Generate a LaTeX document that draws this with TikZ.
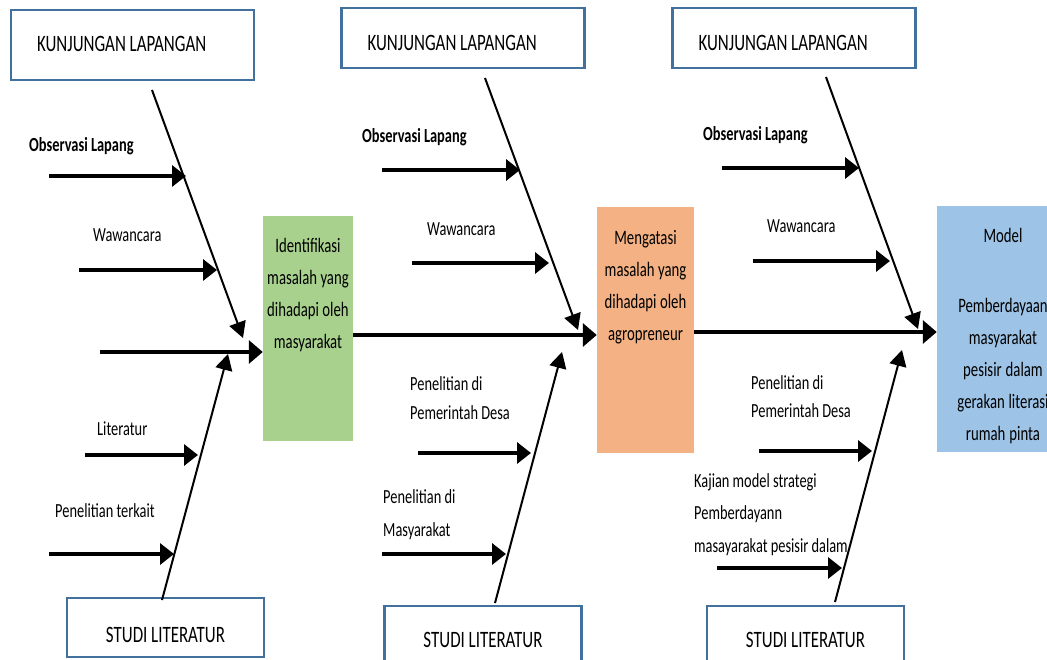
\documentclass[tikz,border=0pt]{standalone}
\usepackage{fontspec}
\setmainfont{Carlito}[FakeStretch=0.72]
\usetikzlibrary{positioning,arrows.meta,calc}
\definecolor{fishline}{HTML}{41719C}
\definecolor{fishgreen}{HTML}{A9D18E}
\definecolor{fishorange}{HTML}{F4B183}
\definecolor{fishblue}{HTML}{9DC3E6}
\newcommand{\fishsize}[2]{\fontsize{#1}{#2}\selectfont}
\tikzset{
    every node/.style={execute at begin node={\spaceskip=0.16em plus 0.05em\relax}},
    every edge/.style={draw,line width=2pt,-{Triangle[length=16pt,width=17pt]}},
    rib/.style={line width=3.3pt,-{Triangle[length=14pt,width=21pt]}},
    spine/.style={line width=3.3pt,-{Triangle[length=14pt,width=23pt]}},
    source/.style={draw=fishline,line width=2.5pt,inner xsep=26pt,inner ysep=0pt,text width=191pt,align=left,minimum height=60pt,text height=30pt,text depth=4pt,font=\fishsize{23.5}{28}},
    studi/.style={draw=fishline,line width=2.5pt,inner sep=0pt,minimum width=197pt,minimum height=60pt,text height=26pt,text depth=4pt,font=\fishsize{23.5}{28}},
    effect/.style={inner sep=0pt,align=center,font=\fishsize{20.5}{32}},
    cause/.style={inner sep=0pt,anchor=base west,align=left,text width=230pt,font=\fishsize{20}{30}},
}

\begin{document}
\begin{tikzpicture}[x=1pt,y=-1pt]
    \useasboundingbox (0,0) rectangle (1047,660);
    \clip (0,0) rectangle (1047,660);

    \node[source,text height=18pt,minimum height=70pt] (kl1) at (132.5,45) {KUNJUNGAN LAPANGAN};
    \node[source] (kl2) at (463,38) {KUNJUNGAN LAPANGAN};
    \node[source] (kl3) at (794,38) {KUNJUNGAN LAPANGAN};
    \node[studi,text height=33pt,minimum height=59pt] (sl1) at (165.5,627.5) {STUDI LITERATUR};
    \node[studi] (sl2) at (483,636) {STUDI LITERATUR};
    \node[studi] (sl3) at (805.5,636) {STUDI LITERATUR};

    \node[effect,fill=fishgreen,minimum width=90pt,text width=88pt,text height=37pt,text depth=188pt] (ident) at (308,328.5)
        {Identifikasi\\masalah yang\\dihadapi oleh\\masyarakat};
    \node[effect,fill=fishorange,minimum width=97pt,text width=95pt,text height=38pt,text depth=208pt] (atasi) at (645.5,330)
        {Mengatasi\\masalah yang\\dihadapi oleh\\agropreneur};
    \node[effect,fill=fishblue,minimum width=132pt,text width=130pt,text height=37pt,text depth=209pt] (model) at (1003,329)
        {Model\\[38pt]Pemberdayaan\\masyarakat\\pesisir dalam\\gerakan literasi\\rumah pinta};

    \node[cause] (obs1) at (29,152) {\textbf{Observasi Lapang}};
    \node[cause] (waw1) at (93,242) {Wawancara};
    \node[cause] (lit1) at (97,435) {Literatur};
    \node[cause] (pen1) at (55,517) {Penelitian terkait};
    \node[cause] (obs2) at (362,143) {\textbf{Observasi Lapang}};
    \node[cause] (waw2) at (427,236) {Wawancara};
    \node[cause,font=\fishsize{20}{29}] (pem2) at (410,390) {Penelitian di\\Pemerintah Desa};
    \node[cause,font=\fishsize{20}{33}] (mas2) at (383,503) {Penelitian di\\Masyarakat};
    \node[cause] (obs3) at (703,141) {\textbf{Observasi Lapang}};
    \node[cause] (waw3) at (767,233) {Wawancara};
    \node[cause,font=\fishsize{20}{28}] (pem3) at (751,389) {Penelitian di\\Pemerintah Desa};
    \node[cause,font=\fishsize{20}{32.5}] (kaj3) at (694,487) {Kajian model strategi\\Pemberdayann\\masayarakat pesisir dalam};

    \coordinate (kt1) at (152,90);  \coordinate (kh1) at (243,338);
    \coordinate (kt2) at (485,78);  \coordinate (kh2) at (578,330);
    \coordinate (kt3) at (826,77);  \coordinate (kh3) at (918,329);
    \coordinate (st1) at (162,600); \coordinate (sh1) at (228,354);
    \coordinate (st2) at (495,603); \coordinate (sh2) at (562,352);
    \coordinate (st3) at (835,602); \coordinate (sh3) at (902,350);
    \coordinate (sp1) at (100,352);
    \coordinate (sp2) at (353,335);
    \coordinate (sp3) at (694,332);

    \path
    (kt1) edge (kh1)
    (kt2) edge (kh2)
    (kt3) edge (kh3)
    (st1) edge (sh1)
    (st2) edge (sh2)
    (st3) edge (sh3);

    \draw[spine] (sp1) -- (sp1 -| ident.west);
    \draw[spine] (ident.east |- sp2) -- (sp2 -| atasi.west);
    \draw[spine] (atasi.east |- sp3) -- (sp3 -| model.west);

    \coordinate (o1a) at (49,176);  \coordinate (o1b) at (186,176);
    \coordinate (w1a) at (79,270);  \coordinate (w1b) at (217,270);
    \coordinate (l1a) at (85,455);  \coordinate (l1b) at (198,455);
    \coordinate (p1a) at (49,554);  \coordinate (p1b) at (174,554);
    \coordinate (o2a) at (382,170); \coordinate (o2b) at (520,170);
    \coordinate (w2a) at (412,263); \coordinate (w2b) at (549,263);
    \coordinate (p2a) at (418,453); \coordinate (p2b) at (531,453);
    \coordinate (m2a) at (382,554); \coordinate (m2b) at (506,554);
    \coordinate (o3a) at (722,168); \coordinate (o3b) at (859,168);
    \coordinate (w3a) at (753,261); \coordinate (w3b) at (890,261);
    \coordinate (p3a) at (759,451); \coordinate (p3b) at (872,451);
    \coordinate (k3a) at (717,568); \coordinate (k3b) at (842,568);

    \draw[rib] (o1a) -- (o1b);
    \draw[rib] (w1a) -- (w1b);
    \draw[rib] (l1a) -- (l1b);
    \draw[rib] (p1a) -- (p1b);
    \draw[rib] (o2a) -- (o2b);
    \draw[rib] (w2a) -- (w2b);
    \draw[rib] (p2a) -- (p2b);
    \draw[rib] (m2a) -- (m2b);
    \draw[rib] (o3a) -- (o3b);
    \draw[rib] (w3a) -- (w3b);
    \draw[rib] (p3a) -- (p3b);
    \draw[rib] (k3a) -- (k3b);
\end{tikzpicture}
\end{document}
